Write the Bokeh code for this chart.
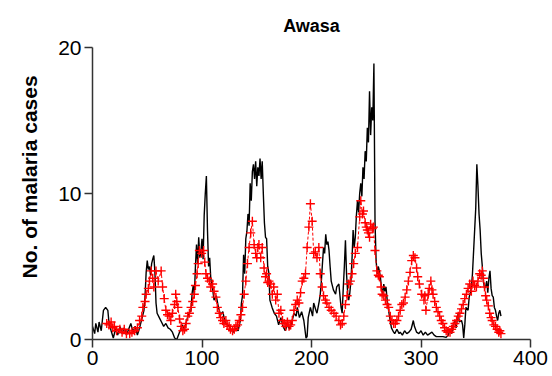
from bokeh.plotting import figure
from bokeh.models import Range1d, FixedTicker, Title
from bokeh.embed import file_html
from bokeh.resources import INLINE

title_text = "Awasa"
y_label = "No. of malaria cases"
x_ticks = [0, 100, 200, 300, 400]
y_ticks = [0, 10, 20]

# observed series (black line)
obs_x = [0, 2, 3, 5, 6, 8, 10, 12, 14, 15, 17, 19, 21, 23, 25, 27, 29, 31, 33, 35, 37, 39, 41, 43, 45, 47, 48, 49,
         50, 51, 52, 53, 54, 55, 56, 57, 58, 59, 61, 63, 65, 67, 69, 71, 73, 75, 77, 78, 80, 82, 84, 86, 88, 90,
         91, 92, 93, 94, 95, 96, 97, 98, 99, 100, 101, 102, 103, 104, 105, 106, 107, 108, 110, 111, 113, 115, 117,
         119, 121, 123, 125, 127, 129, 131, 133, 135, 136, 137, 138, 139, 140, 141, 142, 143, 144, 145, 146, 147,
         148, 149, 150, 151, 152, 153, 154, 155, 156, 157, 158, 159, 160, 161, 162, 164, 166, 168, 170, 172, 174,
         176, 178, 180, 182, 184, 186, 187, 189, 191, 193, 195, 196, 197, 199, 201, 202, 204, 205, 207, 208, 209,
         210, 211, 212, 213, 214, 215, 216, 217, 218, 220, 222, 223, 225, 226, 227, 228, 229, 230, 231, 232, 233,
         234, 235, 236, 237, 238, 239, 240, 241, 242, 243, 244, 245, 246, 247, 248, 249, 250, 251, 252, 253, 254,
         255, 256, 257, 258, 259, 260, 261, 262, 263, 264, 265, 266, 267, 268, 269, 270, 272, 273, 275, 276, 278,
         280, 281, 283, 285, 287, 289, 291, 293, 294, 296, 298, 300, 302, 304, 306, 308, 310, 312, 314, 317, 320,
         323, 325, 326, 328, 329, 331, 332, 334, 335, 337, 338, 339, 340, 341, 343, 344, 346, 347, 348, 349, 350,
         351, 352, 353, 354, 355, 356, 357, 358, 359, 360, 361, 362, 363, 364, 365, 366, 367, 368, 369, 370, 371,
         372, 373]
obs_y = [0.9, 0.4, 1.1, 0.5, 1.2, 0.6, 2.0, 2.2, 2.0, 1.2, 0.6, 0.1, 0.7, 0.3, 0.9, 0.4, 0.8, 0.3, 0.7, 1.1, 0.5,
         0.9, 0.3, 0.8, 1.4, 2.0, 3.0, 4.6, 5.4, 4.8, 5.0, 4.4, 5.2, 5.5, 5.75, 4.6, 2.5, 1.8, 1.5, 1.2, 0.9, 1.1,
         0.8, 0.7, 0.5, 0.1, 0.0, 0.2, 0.6, 1.0, 0.7, 1.3, 1.8, 2.0, 3.2, 3.7, 3.0, 5.0, 6.5, 5.2, 7.0, 5.6, 6.0,
         6.9, 5.5, 8.5, 10.0, 11.2, 7.5, 5.0, 5.6, 4.2, 3.3, 2.7, 3.0, 2.2, 1.7, 1.9, 1.2, 1.0, 0.9, 0.6, 0.5, 0.8,
         0.6, 1.3, 2.5, 3.0, 5.8, 4.5, 6.9, 7.4, 8.6, 7.8, 10.7, 9.5, 11.5, 12.0, 11.0, 12.2, 10.5, 11.8, 11.2,
         12.4, 11.0, 12.2, 10.0, 8.0, 7.0, 6.9, 5.0, 4.6, 2.7, 2.2, 1.8, 1.6, 1.0, 1.5, 0.9, 0.6, 1.0, 0.7, 1.2,
         1.8, 1.6, 2.2, 1.5, 1.9, 1.3, 0.1, 0.2, 1.5, 2.2, 1.6, 2.5, 2.0, 1.8, 2.6, 3.1, 4.0, 5.2, 6.3, 5.9, 7.2,
         6.5, 6.7, 6.1, 5.0, 4.0, 3.4, 3.1, 3.6, 3.8, 3.0, 2.2, 1.8, 3.5, 5.0, 6.8, 4.5, 3.2, 2.7, 3.2, 4.0, 5.5,
         7.5, 6.3, 7.0, 8.5, 9.5, 8.7, 10.0, 10.7, 9.8, 11.8, 11.0, 12.9, 12.2, 14.5, 13.5, 17.0, 14.0, 15.9, 15.0,
         18.9, 8.1, 5.4, 4.5, 5.0, 4.7, 4.2, 3.5, 3.1, 3.8, 3.3, 3.6, 2.8, 2.2, 1.2, 0.8, 0.5, 0.4, 0.7, 0.4, 0.5,
         0.3, 0.6, 0.4, 0.5, 0.7, 1.3, 0.9, 0.5, 0.4, 0.6, 0.3, 0.5, 0.3, 0.4, 0.5, 0.3, 0.2, 0.2, 0.2, 0.15, 0.3,
         0.6, 0.4, 0.9, 1.3, 0.8, 1.8, 1.2, 1.3, 1.0, 0.1, 1.0, 2.2, 2.0, 2.9, 3.5, 4.5, 6.0, 7.5, 9.0, 12.0, 10.5,
         8.6, 7.5, 5.9, 5.0, 4.0, 3.5, 3.6, 4.0, 3.2, 4.2, 4.7, 3.5, 3.0, 2.9, 2.2, 2.0, 1.6, 1.3, 1.8, 2.0, 1.6]

# predicted series (red dashed with crosses)
pred_x = [13, 15, 17, 18.5, 20, 22, 25, 27, 29, 31, 34, 36, 38.5, 41, 43, 45, 46, 48, 49, 51, 52, 53.6, 55, 56, 58,
          60, 62.7, 64, 65.5, 67, 68.5, 70, 71.5, 73, 75, 76, 77, 78, 79.5, 81, 82.5, 84, 85.5, 87, 88.5, 90, 91.5,
          93, 94, 95.5, 96.5, 97.6, 99.7, 101.5, 102.5, 103.6, 105, 106.7, 108, 109.7, 111, 112.7, 114, 115.8, 117,
          118.8, 120, 121.8, 123, 124.8, 126, 127.9, 129.5, 131, 132.5, 134, 135.5, 137, 138.5, 140, 141.5, 143,
          144.5, 146, 147.6, 149, 150, 151, 152, 153.6, 155, 156.7, 158, 159, 160, 161.2, 162.7, 164.2, 165.5,
          167.3, 168.8, 170.3, 172, 173.5, 175, 176.5, 178, 179.5, 181, 182.5, 184, 185.5, 187, 188.5, 190, 191.5,
          193, 194.5, 196, 197.6, 199, 200.6, 202, 203.5, 205, 206.7, 208, 209.7, 211, 212.7, 214, 216, 218, 220.5,
          222.5, 225, 226.5, 228, 229.5, 231, 232.5, 234, 235.5, 237, 238.5, 240, 242, 244, 245, 246.5, 247.5, 249,
          250, 251, 252, 253, 254, 255.5, 256.5, 258, 259.7, 261, 262, 263.5, 264.5, 266, 267.5, 269, 270.5, 272,
          273.5, 275, 276.5, 278, 279.5, 281, 282.5, 284, 285.5, 287, 288.5, 290, 291.5, 293, 294.5, 296, 297,
          298.5, 300.6, 302.7, 303.5, 304.5, 306.6, 307.5, 309, 310, 311, 312.5, 314, 315.5, 317, 318.5, 320, 321.5,
          323, 324.5, 326.5, 328, 329.5, 331, 332.5, 334, 335.5, 337, 338.5, 340, 341.5, 343, 344.5, 346, 347.5,
          349, 350.6, 352, 353.6, 355, 356, 357, 358, 359, 360, 361.5, 362.7, 364, 365, 366.5, 368, 369.5, 371,
          372, 373]
pred_y = [1.1, 1.0, 1.2, 0.8, 0.9, 0.6, 0.7, 0.5, 0.7, 0.4, 0.4, 0.5, 0.6, 0.8, 1.3, 1.6, 2.2, 2.6, 3.1, 3.5, 4.0,
          4.7, 4.2, 3.6, 4.7, 4.0, 4.7, 3.6, 2.8, 2.0, 1.7, 1.6, 1.3, 1.8, 2.4, 3.1, 2.6, 2.2, 1.4, 0.9, 0.6, 0.7,
          1.1, 1.6, 1.8, 2.2, 2.6, 3.1, 3.7, 4.5, 5.2, 6.1, 5.9, 6.1, 5.3, 4.5, 4.2, 4.0, 3.6, 3.8, 3.3, 2.9, 2.2,
          1.8, 1.5, 1.3, 1.1, 1.3, 1.0, 0.9, 0.7, 0.6, 0.7, 0.9, 1.0, 1.3, 1.7, 2.2, 3.1, 4.0, 5.2, 6.3, 7.3, 8.1,
          6.5, 5.9, 5.6, 6.3, 6.5, 5.6, 6.3, 4.9, 4.3, 4.5, 3.9, 4.0, 3.8, 3.1, 3.6, 2.7, 3.1, 1.8, 2.0, 1.3, 1.1,
          0.9, 1.2, 0.9, 1.0, 1.3, 2.0, 2.4, 2.7, 2.5, 3.2, 4.0, 4.2, 4.5, 6.3, 7.7, 9.3, 8.1, 5.9, 6.0, 5.6, 6.3,
          4.5, 3.6, 3.0, 2.7, 2.5, 2.2, 2.0, 1.8, 1.6, 1.3, 1.0, 1.1, 1.6, 2.4, 3.0, 3.8, 4.0, 4.5, 5.2, 5.9, 6.3,
          8.4, 9.5, 8.6, 8.8, 8.0, 7.7, 7.5, 7.3, 7.0, 7.9, 7.6, 7.7, 6.1, 4.7, 4.4, 4.3, 3.6, 3.1, 3.0, 2.7, 2.4,
          2.2, 1.6, 1.3, 1.1, 1.1, 1.3, 1.6, 2.0, 2.4, 2.5, 2.9, 3.4, 4.0, 4.6, 5.4, 5.75, 5.6, 4.9, 4.3, 3.8, 3.1,
          2.7, 3.0, 2.0, 3.1, 3.5, 4.0, 3.4, 3.1, 2.6, 2.2, 1.9, 1.6, 1.3, 1.1, 0.8, 0.6, 0.5, 0.5, 0.7, 0.9, 1.1,
          1.3, 1.6, 1.8, 2.1, 2.4, 2.8, 3.1, 3.5, 3.8, 3.3, 4.0, 3.7, 3.6, 4.0, 4.5, 4.4, 4.7, 4.2, 3.6, 3.0, 2.7,
          2.3, 1.8, 1.5, 1.3, 1.0, 0.9, 0.7, 0.5, 0.6, 0.4]

FONT = "Liberation Sans"
AXIS_COLOR = "#333333"

p = figure(width=552, height=376, output_backend="svg", toolbar_location=None,
           x_range=Range1d(0, 400), y_range=Range1d(0, 20),
           min_border_left=91, min_border_right=22, min_border_top=47, min_border_bottom=37)
p.outline_line_color = None
p.xgrid.visible = False
p.ygrid.visible = False
p.background_fill_color = "white"

p.title.text = title_text
p.title.align = "center"
p.title.text_font = FONT
p.title.text_font_size = "18px"
p.title.text_font_style = "bold"
p.title.text_color = "black"
p.title.standoff = 24

for ax, ticks in ((p.xaxis, x_ticks), (p.yaxis, y_ticks)):
    ax.ticker = FixedTicker(ticks=ticks)
    ax.major_label_text_font = FONT
    ax.major_label_text_font_size = "21px"
    ax.major_label_text_color = "black"
    ax.axis_line_color = AXIS_COLOR
    ax.axis_line_width = 1.5
    ax.major_tick_line_color = AXIS_COLOR
    ax.major_tick_line_width = 1.5
    ax.major_tick_out = 8
    ax.major_tick_in = 0
    ax.minor_tick_line_color = None

p.xaxis.major_label_standoff = 3
p.yaxis.major_label_standoff = 3

ytitle = Title(text=y_label, align="left", offset=61, standoff=30, text_font=FONT, text_font_size="21px",
               text_font_style="bold", text_color="black")
p.add_layout(ytitle, "left")

p.line(obs_x, obs_y, line_color="black", line_width=1.4)
p.line(pred_x, pred_y, line_color="red", line_width=1.0, line_dash="3 2")
p.scatter(pred_x, pred_y, marker="cross", size=9, line_color="red", line_width=1.4)

open("out.html", "w").write(file_html(p, INLINE))
